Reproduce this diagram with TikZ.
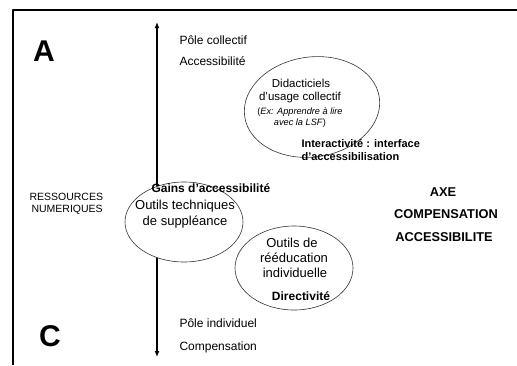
\documentclass[tikz,border=0pt]{standalone}
\usepackage{fontspec}
\setmainfont{Liberation Sans}
\usetikzlibrary{arrows.meta}
\newcommand{\sizept}[1]{\fontsize{#1}{#1}\selectfont}

\begin{document}
\begin{tikzpicture}[x=1pt, y=-1pt, >={Latex[length=6pt,width=5pt]}, line cap=round, line join=round,
	pole/.style={anchor=west, font=\sizept{12}},
	inner/.style={font=\sizept{13}},
	ring/.style={draw=black!80, fill=white, line width=0.6pt},
	tag/.style={font=\bfseries\sizept{12}},
	axe/.style={font=\bfseries\sizept{12.8}},
	corner/.style={font=\bfseries\sizept{30}}]
% pixel grid, y going down
\useasboundingbox (0,0) rectangle (517,365);
%========================
% frame
%========================
\draw[line width=2pt, line cap=butt] (517,10) -- (13,10) -- (13,365);

\node[corner] (lettreA) at (44,51) {A};
\node[corner] (lettreC) at (50,336) {C};

%========================
% vertical axis
%========================
\coordinate (haut) at (157,22);
\coordinate (bas) at (157,357);
\draw[<->, line width=1.6pt, line cap=butt] (bas) -- (haut);

\node[pole] (pcoll) at (176,40) {Pôle collectif};
\node[pole] (acces) at (176,61) {Accessibilité};
\node[pole] (pind) at (176,323) {Pôle individuel};
\node[pole] (comp) at (176,347) {Compensation};

\node[anchor=west, font=\sizept{10.5}] (ress) at (26,197) {RESSOURCES};
\node[anchor=west, font=\sizept{10.5}] (num) at (28,210) {NUMERIQUES};

% right hand title
\node[axe] (axe) at (443,192) {AXE};
\node[axe] (axcomp) at (446,214) {COMPENSATION};
\node[axe] (axacc) at (444,237) {ACCESSIBILITE};

%========================
% ellipses (white, so they hide the axis)
%========================
% collective tutorials
\draw[ring, rotate around={8:(312,107)}] (312,107) ellipse [x radius=68pt, y radius=50pt];
\node[font=\sizept{11.5}] (did1) at (301,83) {Didacticiels};
\node[font=\sizept{11.5}] (did2) at (300,98) {d’usage collectif};
\node[font=\sizept{9.2}] (did3) at (300,112) {(\textit{Ex: Apprendre à lire}};
\node[font=\sizept{9.2}] (did4) at (300,123) {\textit{avec la LSF})};
\node[tag, anchor=west, font=\bfseries\sizept{11}] (inter1) at (298,144) {Interactivité : interface};
\node[tag, anchor=west, font=\bfseries\sizept{11}] (inter2) at (298,157) {d’accessibilisation};

% technical tools
\draw[ring] (184,222) ellipse [x radius=59pt, y radius=40pt];
\node[tag, anchor=west] (gains) at (148,188) {Gains d’accessibilité};
\node[inner] (tech1) at (185,206) {Outils techniques};
\node[inner] (tech2) at (185,222) {de suppléance};

% individual re-education
\draw[ring] (294,268) ellipse [x radius=59pt, y radius=42pt];
\node[inner] (reed1) at (292,243) {Outils de};
\node[inner] (reed2) at (294,258) {rééducation};
\node[inner] (reed3) at (295,273) {individuelle};
\node[tag] (direct) at (301,296) {Directivité};
\end{tikzpicture}
\end{document}
